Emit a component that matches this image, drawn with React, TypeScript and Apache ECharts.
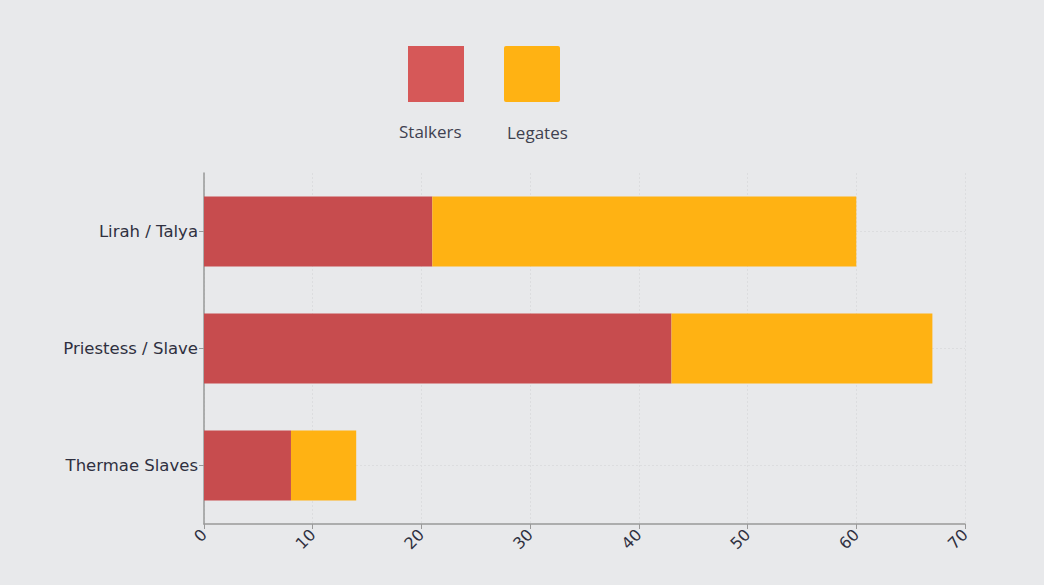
import React, { useEffect, useRef } from "react";
import * as echarts from "echarts";

const categories = ["Lirah / Talya", "Priestess / Slave", "Thermae Slaves"];
const stalkers = [21, 43, 8];
const legates = [39, 24, 6];
const seriesNames = ["Stalkers", "Legates"];
const xTicks = [0, 10, 20, 30, 40, 50, 60, 70];

export default function App() {
  const ref = useRef<HTMLDivElement>(null);
  useEffect(() => {
    if (!ref.current) return;
    const chart = echarts.init(ref.current, null, { renderer: "svg" });
    const labelFont = "DejaVu Sans";
    chart.setOption({
      animation: false,
      backgroundColor: "#e8e9eb",
      legend: [
        {
          data: [{ name: seriesNames[0], itemStyle: { color: "#d65858" } }],
          left: 408,
          top: 46,
          padding: 0,
          itemWidth: 56,
          itemHeight: 56,
          icon: "rect",
          formatter: () => "",
          selectedMode: false,
        },
        {
          data: [{ name: seriesNames[1], itemStyle: { color: "#ffb213" } }],
          left: 504,
          top: 46,
          padding: 0,
          itemWidth: 56,
          itemHeight: 56,
          icon: "path://M2,0 H54 Q56,0 56,2 V54 Q56,56 54,56 H2 Q0,56 0,54 V2 Q0,0 2,0 Z",
          formatter: () => "",
          selectedMode: false,
        },
      ],
      graphic: [
        {
          type: "text",
          left: 399,
          top: 123,
          style: { text: seriesNames[0], fontFamily: "Open Sans", fontSize: 17, fill: "#3f4150" },
        },
        {
          type: "text",
          left: 507,
          top: 124,
          style: { text: seriesNames[1], fontFamily: "Open Sans", fontSize: 17, fill: "#3f4150" },
        },
      ],
      grid: { left: 204, right: 79, top: 173, bottom: 61, containLabel: false },
      xAxis: {
        type: "value",
        min: 0,
        max: 70,
        interval: 10,
        axisLine: { show: true, lineStyle: { color: "#999999", width: 1.5 } },
        axisTick: { show: true, length: 5, lineStyle: { color: "#999999" } },
        axisLabel: {
          rotate: 45,
          fontFamily: labelFont,
          fontSize: 16,
          color: "#2f3040",
          margin: 8,
          formatter: (v: number) => (xTicks.includes(v) ? String(v) : ""),
        },
        splitLine: { show: true, lineStyle: { color: "#dcdddf", type: [2, 2], width: 1 } },
      },
      yAxis: [
        {
          type: "category",
          data: categories,
          inverse: true,
          axisLine: { show: true, lineStyle: { color: "#999999", width: 1.5 } },
          axisTick: { show: true, alignWithLabel: true, length: 5, lineStyle: { color: "#999999" } },
          axisLabel: { fontFamily: labelFont, fontSize: 16.5, color: "#2f3040", margin: 6 },
          splitLine: { show: false },
        },
        {
          type: "category",
          data: ["", "", "", "", "", "", ""],
          boundaryGap: false,
          position: "left",
          axisLine: { show: false },
          axisTick: { show: false },
          axisLabel: { show: false },
          splitLine: {
            show: true,
            interval: (i: number) => i % 2 === 1,
            lineStyle: { color: "#dcdddf", type: [2, 2], width: 1 },
          },
        },
      ],
      series: [
        {
          name: seriesNames[0],
          type: "bar",
          stack: "total",
          data: stalkers,
          barCategoryGap: "40%",
          itemStyle: { color: "#c74c4e" },
        },
        {
          name: seriesNames[1],
          type: "bar",
          stack: "total",
          data: legates,
          barCategoryGap: "40%",
          itemStyle: { color: "#ffb213" },
        },
      ],
    });
    return () => chart.dispose();
  }, []);
  return <div ref={ref} style={{ position: "fixed", left: 0, top: 0, width: 1044, height: 585 }} />;
}
